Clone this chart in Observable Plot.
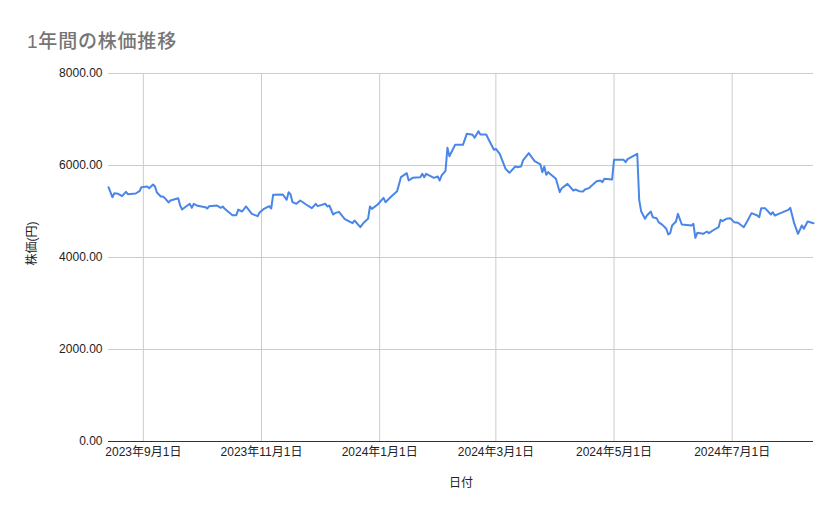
<!DOCTYPE html>
<html>
<head>
<meta charset="utf-8">
<script src="https://cdn.jsdelivr.net/npm/d3@7"></script>
<script src="https://cdn.jsdelivr.net/npm/@observablehq/plot@0.6"></script>
<style>
  html, body { margin: 0; padding: 0; background: #fff; }
  #wrap { position: relative; width: 839px; height: 519px; font-family: "Liberation Sans", Arial, "Noto Sans CJK JP", sans-serif; }
  #title { position: absolute; left: 27px; top: 26px; font-size: 19px; letter-spacing: 0.8px; font-weight: 500; color: #757575; font-family: "Liberation Sans", Arial, "Noto Sans CJK JP", sans-serif; }
  #chart { position: absolute; left: 0; top: 0; }
</style>
</head>
<body>
<div id="wrap">
  <div id="chart"></div>
  <div id="title">1年間の株価推移</div>
</div>
<script>
const dates = [
"2023-08-14","2023-08-16","2023-08-17","2023-08-19","2023-08-21","2023-08-23","2023-08-24","2023-08-28","2023-08-30","2023-08-31",
"2023-09-03","2023-09-04","2023-09-06","2023-09-07","2023-09-08","2023-09-10","2023-09-11","2023-09-12","2023-09-14","2023-09-15",
"2023-09-19","2023-09-20","2023-09-21","2023-09-23","2023-09-25","2023-09-26","2023-09-27","2023-09-29","2023-10-01","2023-10-03",
"2023-10-04","2023-10-05","2023-10-09","2023-10-11","2023-10-12","2023-10-13","2023-10-17","2023-10-19","2023-10-20","2023-10-22",
"2023-10-24","2023-10-25","2023-10-27","2023-10-30","2023-10-31","2023-11-02","2023-11-05","2023-11-06","2023-11-07","2023-11-12",
"2023-11-14","2023-11-15","2023-11-16","2023-11-17","2023-11-19","2023-11-21","2023-11-24","2023-11-27","2023-11-29","2023-11-30",
"2023-12-04","2023-12-05","2023-12-06","2023-12-08","2023-12-09","2023-12-11","2023-12-14","2023-12-16","2023-12-18","2023-12-19",
"2023-12-22","2023-12-24","2023-12-26","2023-12-27","2023-12-28","2023-12-31","2024-01-03","2024-01-04","2024-01-07","2024-01-10",
"2024-01-12","2024-01-15","2024-01-16","2024-01-18","2024-01-22","2024-01-23","2024-01-24","2024-01-25","2024-01-29","2024-01-31",
"2024-02-01","2024-02-02","2024-02-04","2024-02-05","2024-02-06","2024-02-09","2024-02-13","2024-02-15","2024-02-18","2024-02-19",
"2024-02-21","2024-02-22","2024-02-25","2024-02-27","2024-02-29","2024-03-01","2024-03-03","2024-03-06","2024-03-08","2024-03-11",
"2024-03-12","2024-03-14","2024-03-15","2024-03-18","2024-03-21","2024-03-24","2024-03-25","2024-03-26","2024-03-27","2024-03-28",
"2024-04-01","2024-04-03","2024-04-04","2024-04-07","2024-04-10","2024-04-11","2024-04-13","2024-04-15","2024-04-16","2024-04-18",
"2024-04-22","2024-04-24","2024-04-25","2024-04-26","2024-04-30","2024-05-01","2024-05-06","2024-05-07","2024-05-08","2024-05-13",
"2024-05-14","2024-05-15","2024-05-17","2024-05-18","2024-05-20","2024-05-21","2024-05-23","2024-05-24","2024-05-26","2024-05-28",
"2024-05-29","2024-05-30","2024-05-31","2024-06-02","2024-06-03","2024-06-05","2024-06-10","2024-06-11","2024-06-12","2024-06-13",
"2024-06-16","2024-06-18","2024-06-19","2024-06-21","2024-06-24","2024-06-25","2024-06-26","2024-06-28","2024-06-30","2024-07-02",
"2024-07-04","2024-07-07","2024-07-09","2024-07-11","2024-07-14","2024-07-15","2024-07-16","2024-07-18","2024-07-21","2024-07-22",
"2024-07-23","2024-07-25","2024-07-30","2024-07-31","2024-08-02","2024-08-04","2024-08-06","2024-08-07","2024-08-09","2024-08-12"
];
const prices = [
5528,5311,5398,5384,5333,5428,5377,5391,5441,5528,
5543,5507,5587,5543,5413,5326,5326,5297,5196,5239,
5289,5130,5043,5109,5167,5080,5167,5123,5109,5094,
5065,5116,5130,5080,5109,5058,4920,4920,5043,5000,
5109,5058,4949,4898,4978,5051,5116,5065,5362,5370,
5254,5420,5370,5203,5167,5239,5152,5072,5167,5116,
5167,5109,5130,4935,4964,4993,4833,4790,4746,4804,
4659,4768,4841,5109,5058,5152,5297,5203,5326,5442,
5746,5833,5674,5732,5746,5819,5746,5819,5732,5761,
5674,5783,5884,6384,6200,6450,6450,6689,6667,6602,
6746,6674,6674,6507,6341,6362,6254,5928,5841,5978,
5964,5978,6109,6268,6094,6022,5855,5978,5797,5855,
5710,5420,5507,5601,5456,5478,5442,5435,5478,5507,
5659,5674,5638,5710,5696,6124,6124,6073,6138,6254,
5254,5007,4841,4913,5000,4877,4855,4768,4710,4624,
4500,4529,4696,4783,4949,4717,4696,4732,4428,4536,
4514,4565,4529,4587,4659,4819,4790,4841,4855,4768,
4754,4659,4804,4964,4913,4877,5072,5072,4935,4985,
4913,4949,5036,5080,4746,4514,4696,4624,4783,4746
];
const xTicks = ["2023-09-01","2023-11-01","2024-01-01","2024-03-01","2024-05-01","2024-07-01"];
const yTicks = [0, 2000, 4000, 6000, 8000];
const xDomain = ["2023-08-14", "2024-08-12"];
const titleText = "1年間の株価推移";
const xLabel = "日付";
const yLabel = "株価(円)";

const data = dates.map((d, i) => ({date: new Date(d), price: prices[i]}));
const tickDates = xTicks.map(d => new Date(d));
const fmtDate = d => `${d.getUTCFullYear()}年${d.getUTCMonth() + 1}月${d.getUTCDate()}日`;
const font = '"Liberation Sans", Arial, "Noto Sans CJK JP", sans-serif';

const chart = Plot.plot({
  width: 839,
  height: 519,
  marginLeft: 108,
  marginRight: 26,
  marginTop: 73,
  marginBottom: 78,
  style: {fontFamily: font, fontSize: "12px", color: "#222", background: "#fff"},
  x: {type: "utc", domain: xDomain.map(d => new Date(d))},
  y: {domain: [0, 8000]},
  marks: [
    Plot.ruleX(tickDates, {stroke: "#cccccc", strokeWidth: 1}),
    Plot.ruleY(yTicks.filter(v => v > 0), {stroke: "#cccccc", strokeWidth: 1}),
    Plot.axisX({ticks: tickDates, tickFormat: fmtDate, tickSize: 0, tickPadding: 6, label: null, fontSize: 12, fill: "#222"}),
    Plot.axisY({ticks: yTicks, tickFormat: d => d.toFixed(2), tickSize: 0, tickPadding: 6, label: null, fontSize: 12, fill: "#222"}),
    Plot.ruleY([0], {stroke: "#333333", strokeWidth: 1}),
    Plot.lineY(data, {x: "date", y: "price", stroke: "#4a86e8", strokeWidth: 2}),
    Plot.text([xLabel], {frameAnchor: "bottom", dy: 45, fontSize: 12, fill: "#222"}),
    Plot.text([yLabel], {frameAnchor: "left", dx: -76, dy: 8, rotate: -90, fontSize: 12, fill: "#222"})
  ]
});
document.getElementById("chart").appendChild(chart);
document.getElementById("title").textContent = titleText;
</script>
</body>
</html>
